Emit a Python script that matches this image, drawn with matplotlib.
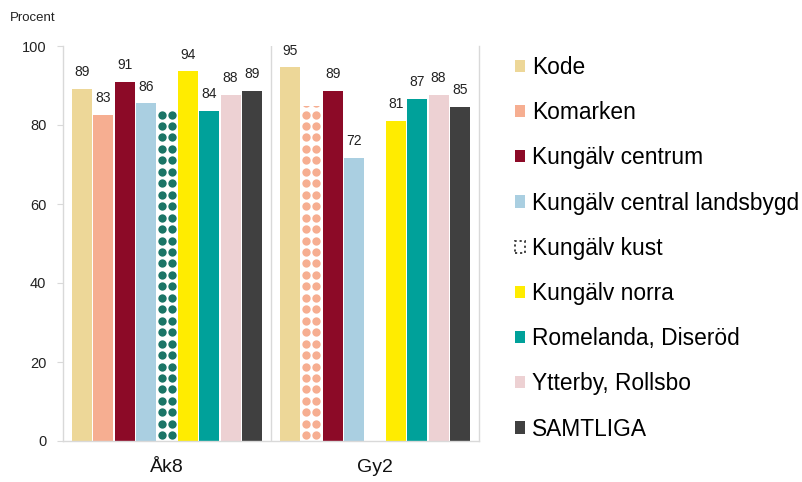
import numpy as np
import matplotlib
matplotlib.use("Agg")
import matplotlib.pyplot as plt
from matplotlib.patches import Patch

plt.rcParams['font.family'] = ['Liberation Sans', 'DejaVu Sans']

groups = ['Åk8', 'Gy2']
series = ['Kode', 'Komarken', 'Kungälv centrum', 'Kungälv central landsbygd',
          'Kungälv kust', 'Kungälv norra', 'Romelanda, Diseröd',
          'Ytterby, Rollsbo', 'SAMTLIGA']
colors = ['#EDD798', '#F6AE91', '#8C0A27', '#AACFE1', '#1B7566',
          '#FFEC00', '#00A19A', '#EDD1D3', '#404040']
values_ak8 = [89.1, 82.6, 90.9, 85.5, 84.4, 93.6, 83.6, 87.6, 88.6]
values_gy2 = [94.6, 84.8, 88.6, 71.7, np.nan, 81.1, 86.6, 87.6, 84.6]
# bars shown with a dotted pattern and no value label (few respondents)
pattern_ak8 = [False, False, False, False, True, False, False, False, False]
pattern_gy2 = [False, True, False, False, False, False, False, False, False]

values = [values_ak8, values_gy2]
patterns = [pattern_ak8, pattern_gy2]

fig = plt.figure(figsize=(8.03, 4.82), dpi=100)
ax = fig.add_axes([63/803, 41/482, (479-63)/803, (441-46)/482])

n = len(series)
pitch = 0.1019
width = 0.096
xg = np.arange(len(groups))

for i in range(n):
    for g in range(len(groups)):
        v = values[g][i]
        if np.isnan(v):
            continue
        x = xg[g] + (i - (n - 1) / 2) * pitch
        if patterns[g][i]:
            bar = ax.bar(x, v, width=width, color='white', zorder=2)[0]
            # dotted texture clipped to the bar
            ys = np.arange(1.45, v + 3, 2.9)
            xs = [x - width * 0.25, x + width * 0.25]
            px, py = np.meshgrid(xs, ys)
            sc = ax.scatter(px.ravel(), py.ravel(), s=36, marker='o',
                            color=colors[i], linewidths=0, zorder=3)
            sc.set_clip_path(bar)
        else:
            ax.bar(x, v, width=width, color=colors[i], zorder=2)
            ax.annotate(f"{int(v + 0.5)}", (x, v), xytext=(0, 7),
                        textcoords='offset points', ha='center', va='bottom',
                        fontsize=10, color='#222222')

ax.set_xlim(-0.5, 1.5)
ax.set_ylim(0, 100)
ax.set_yticks(np.arange(0, 101, 20))
ax.tick_params(axis='y', labelsize=10.5, length=4, color='#D9D9D9', pad=8,
               labelcolor='#222222')
ax.set_xticks(xg)
ax.set_xticklabels(groups, fontsize=14, color='#111111')
ax.tick_params(axis='x', length=0, pad=13)
for s in ['top']:
    ax.spines[s].set_visible(False)
for s in ['left', 'bottom', 'right']:
    ax.spines[s].set_color('#D9D9D9')
    ax.spines[s].set_linewidth(1.0)
ax.axvline(0.5, color='#D9D9D9', lw=1.0, zorder=1)

fig.text(10/803, 1 - 18/482, 'Procent', fontsize=9.5, va='center',
         ha='left', color='#222222')

handles = []
for i in range(n):
    if series[i] == 'Kungälv kust':
        handles.append(Patch(facecolor='white', edgecolor='#333333',
                             linewidth=1.3, linestyle=(0, (1.2, 1.6))))
    else:
        handles.append(Patch(facecolor=colors[i], edgecolor='none'))
leg = fig.legend(handles, series, loc='upper left',
                 bbox_to_anchor=(515/803, 1 - 56/482), frameon=False,
                 fontsize=16.4, handlelength=0.45, handleheight=0.45,
                 handletextpad=0.3, labelspacing=0.975, borderaxespad=0,
                 borderpad=0)

fig.savefig('out.png', dpi=100)
